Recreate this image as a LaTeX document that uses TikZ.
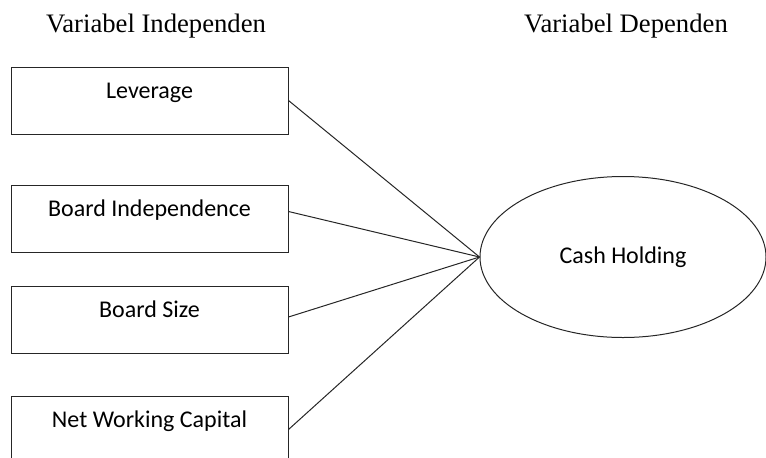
\documentclass[tikz,border=0pt]{standalone}
\usepackage{fontspec}
\setmainfont{Liberation Serif}
\newfontfamily\boxfont{Carlito}
\usetikzlibrary{shapes.geometric}

\tikzset{
  varbox/.style={draw=black!85, line width=0.75pt, rectangle, minimum width=207.75pt,
    inner xsep=0pt, inner ysep=0pt, text height=23.25pt, text depth=27pt,
    font=\boxfont\fontsize{18}{20}\selectfont},
  depell/.style={draw=black!85, line width=0.75pt, ellipse, minimum width=214.5pt,
    minimum height=120.75pt, inner sep=0pt, font=\boxfont\fontsize{18}{20}\selectfont},
  vartitle/.style={inner sep=0pt, font=\fontsize{20}{22}\selectfont},
  link/.style={draw=black!85, line width=0.75pt}
}

\begin{document}
\begin{tikzpicture}[x=0.75pt,y=0.75pt,yscale=-1,xscale=1]
\useasboundingbox (0,0) rectangle (766,457);
\clip (0,0) rectangle (766,457);

% Text Node
\node [vartitle] (tind) at (156,26) {Variabel Independen};
% Text Node
\node [vartitle] (tdep) at (626,26) {Variabel Dependen};

% Independent variables
\node [varbox] (lev) at (149.5,100.5) {Leverage};
\node [varbox] (bind) at (149.5,218.5) {Board Independence};
\node [varbox] (bsize) at (149.5,320) {Board Size};
\node [varbox] (nwc) at (149.5,429.5) {Net Working Capital};

% Dependent variable
\node [depell] (cash) at (623,257) {\raisebox{-4pt}{Cash Holding}};

% Straight Lines
\draw [link] (lev.east) -- (cash.west);
\draw [link] ([yshift=-5.25pt]bind.east) -- (cash.west);
\draw [link] ([yshift=-2.25pt]bsize.east) -- (cash.west);
\draw [link] (nwc.east) -- (cash.west);

\end{tikzpicture}
\end{document}
